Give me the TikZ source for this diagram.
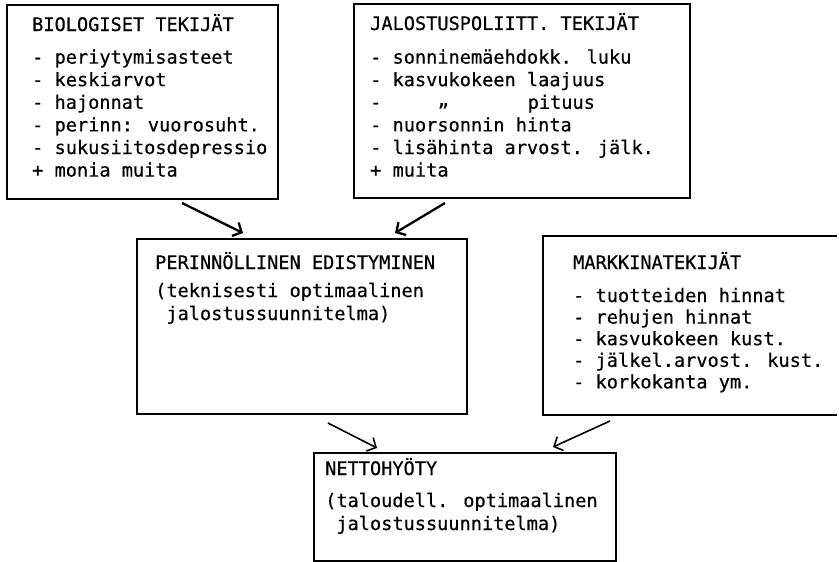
\documentclass[tikz,border=0pt]{standalone}
\usepackage{fontspec}
\newfontfamily\typew[FakeBold=0.5]{DejaVu Sans Mono}
\usetikzlibrary{arrows.meta}
\tikzset{
  boxframe/.style={draw, line width=1.8pt, inner sep=0pt, anchor=north west},
  txtline/.style={anchor=base west, inner sep=0pt, font=\typew\fontsize{18.6}{22}\selectfont},
  flowarrow/.style={line width=2.3pt, -{Straight Barb[length=7pt,width=15pt]}},
  flowthin/.style={flowarrow, line width=1.6pt}
}

\begin{document}
\begin{tikzpicture}[x=1pt,y=-1pt]
\useasboundingbox (0,0) rectangle (839,562);

% frames
\node[boxframe, minimum width=271pt, minimum height=194pt] (bio) at (6,4) {};
\node[boxframe, minimum width=336pt, minimum height=194pt] (jal) at (353,3) {};
\node[boxframe, minimum width=330pt, minimum height=175pt] (per) at (136,238) {};
\node[boxframe, minimum width=302pt, minimum height=108pt] (net) at (313,452) {};
% the market box is open on its right, where it runs off the sheet
\node[boxframe, draw=none, minimum width=292pt, minimum height=177pt] (mar) at (543,236) {};
\draw[line width=1.8pt] (mar.north east) -- (mar.north west) -- (mar.south west) -- (mar.south east);

% biological factors
\node[txtline] (bio0) at (32,31) {BIOLOGISET TEKIJÄT};
\foreach \t [count=\i] in {- periytymisasteet, - keskiarvot, - hajonnat,
    - perinn: vuorosuht., - sukusiitosdepressio, + monia muita}
  \node[txtline] (bio\i) at (32,41+22.6*\i) {\t};

% breeding-policy factors
\node[txtline] (jal0) at (370,30) {JALOSTUSPOLIITT. TEKIJÄT};
\foreach \t [count=\i] in {- sonninemäehdokk. luku, - kasvukokeen laajuus}
  \node[txtline] (jal\i) at (370,41+22.6*\i) {\t};
\node[txtline] (jal3) at (370,108.8) {-};
\node[txtline] (jal3d) at (437.5,106) {„};
\node[txtline] (jal3p) at (527.5,108.8) {pituus};
\foreach \t [count=\i from 4] in {- nuorsonnin hinta, - lisähinta arvost. jälk., + muita}
  \node[txtline] (jal\i) at (370,41+22.6*\i) {\t};

% genetic progress
\node[txtline] (per0) at (155,269) {PERINNÖLLINEN EDISTYMINEN};
\node[txtline] (per1) at (155,297) {(teknisesti optimaalinen};
\node[txtline] (per2) at (155,320) {\phantom{(}jalostussuunnitelma)};

% market factors
\node[txtline] (mar0) at (573,269) {MARKKINATEKIJÄT};
\foreach \t [count=\i] in {- tuotteiden hinnat, - rehujen hinnat,
    - kasvukokeen kust., - jälkel.arvost. kust., - korkokanta ym.}
  \node[txtline] (mar\i) at (573,280.4+21.6*\i) {\t};

% net benefit
\node[txtline] (net0) at (325,475) {NETTOHYÖTY};
\node[txtline] (net1) at (325,507) {(taloudell. optimaalinen};
\node[txtline] (net2) at (325,530) {\phantom{(}jalostussuunnitelma)};

% connectors
\coordinate (a1s) at (182,203); \coordinate (a1e) at (243,233);
\coordinate (a2s) at (445,203); \coordinate (a2e) at (395,233);
\coordinate (a3s) at (328,423); \coordinate (a3e) at (377,448);
\coordinate (a4s) at (610,421); \coordinate (a4e) at (553,447);
\draw[flowarrow] (a1s) -- (a1e);
\draw[flowarrow] (a2s) -- (a2e);
\draw[flowthin] (a3s) -- (a3e);
\draw[flowthin] (a4s) -- (a4e);
\end{tikzpicture}
\end{document}
